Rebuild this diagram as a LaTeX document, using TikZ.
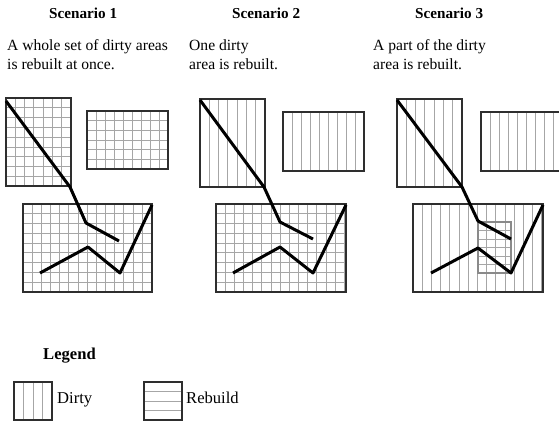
\documentclass[tikz,border=0pt]{standalone}
\usepackage{fontspec}
\setmainfont{Liberation Serif}
\usetikzlibrary{calc}
\definecolor{AreaBorder}{HTML}{2E2E2E}
\definecolor{AreaLine}{HTML}{A6A6A6}
\definecolor{AreaPart}{HTML}{8A8A8A}
% #1,#2 top left, #3,#4 bottom right, #5 step
\newcommand{\vlines}[5]{\begin{scope}\clip (#1,#2) rectangle (#3,#4);
  \foreach \k in {1,...,16} \draw[gl] ({#1+#5*\k},#2) -- ({#1+#5*\k},#4);\end{scope}}
\newcommand{\hlines}[5]{\begin{scope}\clip (#1,#2) rectangle (#3,#4);
  \foreach \k in {1,...,12} \draw[gl] (#1,{#2+#5*\k}) -- (#3,{#2+#5*\k});\end{scope}}

\begin{document}
\begin{tikzpicture}[x=1pt,y=-1pt,
        bx/.style={draw=AreaBorder,line width=1.2pt},
        part/.style={draw=AreaPart,line width=1.1pt},
        gl/.style={draw=AreaLine,line width=0.9pt},
        trace/.style={black,line width=3pt,line join=round},
        head/.style={anchor=base west,font=\fontsize{15.2pt}{17pt}\selectfont\bfseries,inner sep=0pt},
        txt/.style={anchor=base west,font=\fontsize{15.6pt}{18pt}\selectfont,inner sep=0pt},
        leg/.style={anchor=base west,font=\fontsize{16.6pt}{19pt}\selectfont,inner sep=0pt}]
        \useasboundingbox (0,0) rectangle (559,423);
        \clip (0,0) rectangle (559,423);
        \node[head] (h1) at (49,18) {Scenario 1}; \node[head] (h2) at (232,18) {Scenario 2}; \node[head] (h3) at (415,18) {Scenario 3};
        \node[txt] (t1a) at (7,50) {A whole set of dirty areas}; \node[txt] (t1b) at (7,69) {is rebuilt at once.};
        \node[txt] (t2a) at (189,50) {One dirty}; \node[txt] (t2b) at (189,69) {area is rebuilt.};
        \node[txt] (t3a) at (373,50) {A part of the dirty}; \node[txt] (t3b) at (373,69) {area is rebuilt.};
        % scenario 1
        \vlines{6}{98}{71}{186}{9.3} \hlines{6}{98}{71}{186}{9.8} \draw[bx] (6,98) rectangle (71,186);
        \vlines{87}{111}{168}{169}{9.0} \hlines{87}{111}{168}{169}{9.7} \draw[bx] (87,111) rectangle (168,169);
        \vlines{23}{204}{152}{292}{9.17} \hlines{23}{204}{152}{292}{9.75} \draw[bx] (23,204) rectangle (152,292);
        \draw[trace] (6,101) -- (70,187) -- (86,223) -- (119,241);
        \draw[trace] (152,205) -- (120,273) -- (88,247) -- (40,273);
        % scenario 2
        \vlines{200}{99}{265}{187}{9.3} \draw[bx] (200,99) rectangle (265,187);
        \vlines{283}{112}{364}{171}{9.0} \draw[bx] (283,112) rectangle (364,171);
        \vlines{216}{204}{346}{292}{9.17} \hlines{216}{204}{346}{292}{9.75} \draw[bx] (216,204) rectangle (346,292);
        \draw[trace] (200,100) -- (264,187) -- (280,222) -- (313,239);
        \draw[trace] (346,205) -- (313,273) -- (280,247) -- (233,273);
        % scenario 3
        \vlines{397}{99}{462}{187}{9.3} \draw[bx] (397,99) rectangle (462,187);
        \vlines{481}{112}{562}{171}{9.0} \draw[bx] (481,112) rectangle (562,171);
        \vlines{413}{204}{543}{292}{9.2} \draw[bx] (413,204) rectangle (543,292);
        \hlines{478}{222}{511}{273}{8.5} \draw[part] (478,222) rectangle (511,273);
        \draw[trace] (397,100) -- (462,187) -- (478,221) -- (511,239);
        \draw[trace] (543,205) -- (511,273) -- (478,248) -- (431,273);
        % legend
        \node[leg,font=\fontsize{16.6pt}{19pt}\selectfont\bfseries] (lg) at (43,359) {Legend};
        \vlines{14}{382}{52}{420}{9.5} \draw[bx] (14,382) rectangle (52,420);
        \node[leg] (ld) at (57,403) {Dirty};
        \hlines{144}{382}{182}{420}{9.5} \draw[bx] (144,382) rectangle (182,420);
        \node[leg] (lr) at (186,403) {Rebuild};
      \end{tikzpicture}
\end{document}
